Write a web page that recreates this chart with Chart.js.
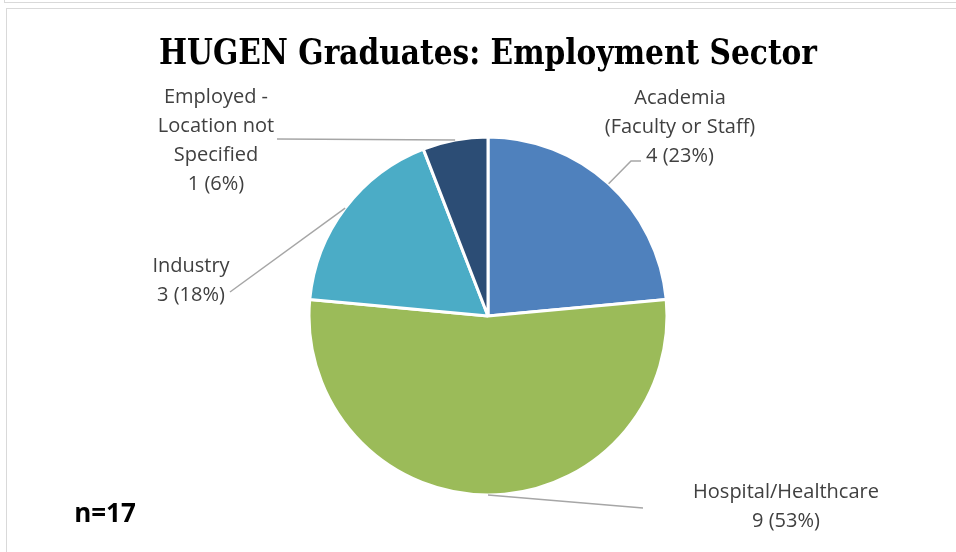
<!DOCTYPE html>
<html>
<head>
<meta charset="utf-8">
<script src="https://cdn.jsdelivr.net/npm/chart.js@4.4.1/dist/chart.umd.min.js"></script>
<style>
  html, body { margin: 0; padding: 0; background: #fff; }
  body { width: 956px; height: 552px; position: relative; overflow: hidden; }
  #prev { position: absolute; left: 4px; top: -10px; width: 960px; height: 12px; border-left: 1px solid #d9d9d9; border-bottom: 1px solid #d9d9d9; }
  #frame { position: absolute; left: 6px; top: 8px; width: 960px; height: 560px; border-left: 1px solid #d9d9d9; border-top: 1px solid #d9d9d9; }
  #wrap { position: absolute; left: 0; top: 0; width: 956px; height: 552px; }
</style>
</head>
<body>
<div id="prev"></div>
<div id="frame"></div>
<div id="wrap"><canvas id="c" width="956" height="552"></canvas></div>
<script>
const categories = ["Academia (Faculty or Staff)", "Hospital/Healthcare", "Industry", "Employed - Location not Specified"];
const counts = [4, 9, 3, 1];
const sliceColors = ["#4F81BD", "#9BBB59", "#4BACC6", "#2C4D75"];
const labelLines = [
  ["Academia", "(Faculty or Staff)", "4 (23%)"],
  ["Hospital/Healthcare", "9 (53%)"],
  ["Industry", "3 (18%)"],
  ["Employed -", "Location not", "Specified", "1 (6%)"]
];
const chartTitle = "HUGEN Graduates: Employment Sector";
const noteText = "n=17";

// layout of label text (center x, first baseline y) and leader-line elbows
const labelLayout = [
  { x: 680, y: 104, path: [[631, 161], [641, 161]] },
  { x: 786, y: 498, path: [[643, 508]] },
  { x: 191, y: 272, path: [[230, 292]] },
  { x: 216, y: 103, path: [[277, 139]] }
];

const labelPlugin = {
  id: 'labelPlugin',
  afterDatasetsDraw(chart) {
    const ctx = chart.ctx;
    const meta = chart.getDatasetMeta(0);
    ctx.save();
    // leader lines
    ctx.strokeStyle = '#A6A6A6';
    ctx.lineWidth = 1.5;
    meta.data.forEach((arc, i) => {
      const mid = (arc.startAngle + arc.endAngle) / 2;
      const sx = arc.x + Math.cos(mid) * arc.outerRadius;
      const sy = arc.y + Math.sin(mid) * arc.outerRadius;
      ctx.beginPath();
      ctx.moveTo(sx, sy);
      labelLayout[i].path.forEach(p => ctx.lineTo(p[0], p[1]));
      ctx.stroke();
    });
    // label text
    ctx.fillStyle = '#404040';
    ctx.font = '20px "Open Sans"';
    ctx.textAlign = 'center';
    ctx.textBaseline = 'alphabetic';
    labelLines.forEach((lines, i) => {
      const L = labelLayout[i];
      lines.forEach((t, j) => ctx.fillText(t, L.x, L.y + j * 29));
    });
    // title
    ctx.fillStyle = '#000';
    ctx.font = 'bold 36px "DejaVu Serif"';
    const w = ctx.measureText(chartTitle).width;
    const target = 658;
    ctx.save();
    ctx.translate(488, 64);
    ctx.scale(target / w, 1);
    ctx.fillText(chartTitle, 0, 0);
    ctx.restore();
    // n note
    ctx.font = 'bold 26px "Open Sans"';
    ctx.fillText(noteText, 105, 522);
    ctx.restore();
  }
};

new Chart(document.getElementById('c'), {
  type: 'pie',
  data: {
    labels: categories,
    datasets: [{
      data: counts,
      backgroundColor: sliceColors,
      borderColor: '#ffffff',
      borderWidth: 3,
      radius: 179
    }]
  },
  options: {
    responsive: false,
    animation: false,
    layout: { padding: { left: 130, right: 110, top: 130, bottom: 50 } },
    plugins: {
      legend: { display: false },
      tooltip: { enabled: false },
      title: { display: false }
    }
  },
  plugins: [labelPlugin]
});
</script>
</body>
</html>
